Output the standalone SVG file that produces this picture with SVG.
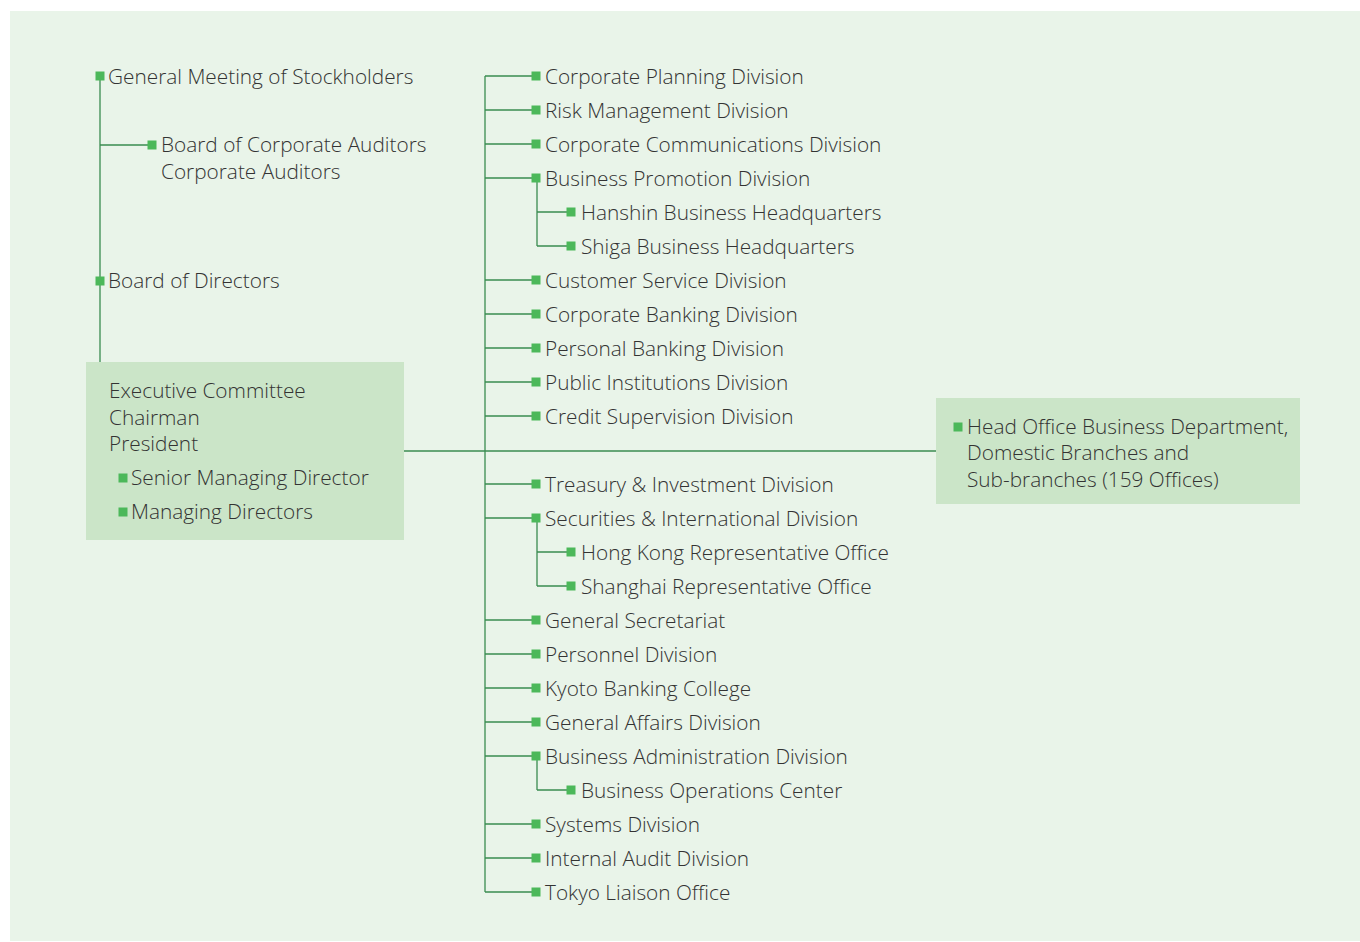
<svg xmlns="http://www.w3.org/2000/svg" width="1360" height="942" viewBox="0 0 1360 942">
<style>
text{font-family:"Open Sans","Noto Sans","Liberation Sans",sans-serif;font-size:20.8px;font-weight:300;fill:#333333}
.ln{stroke:#3a8c50;stroke-width:1.3;fill:none}
.b{fill:#4cb85a}
.box{fill:#cbe5c8}
</style>
<defs>
<rect id="sq" x="-4.5" y="-4.5" width="9" height="9" class="b"/>
</defs>
<rect x="10" y="11" width="1350" height="930" fill="#e9f4e9"/>
<g id="connectors">
<path class="ln" d="M100,76V362M100,145H152"/>
<path class="ln" d="M404,451H936"/>
<path class="ln" d="M485,76V892"/>
<path class="ln" d="M485,76H536M485,110H536M485,144H536M485,178H536M485,280H536M485,314H536M485,348H536M485,382H536M485,416H536M485,484H536M485,518H536M485,620H536M485,654H536M485,688H536M485,722H536M485,756H536M485,824H536M485,858H536M485,892H536"/>
<path class="ln" d="M537,178V246M537,212H571M537,246H571"/>
<path class="ln" d="M537,518V586M537,552H571M537,586H571"/>
<path class="ln" d="M537,756V790M537,790H571"/>
</g>
<g id="n-gms"><use href="#sq" x="100" y="76"/><text x="108" y="84">General Meeting of Stockholders</text></g>
<g id="n-auditors"><use href="#sq" x="152" y="145"/><text x="161" y="152">Board of Corporate Auditors</text><text x="161" y="179">Corporate Auditors</text></g>
<g id="n-bod"><use href="#sq" x="100" y="281"/><text x="108" y="288">Board of Directors</text></g>
<g id="n-exec">
<rect class="box" x="86" y="362" width="318" height="178"/>
<text x="109" y="398">Executive Committee</text>
<text x="109" y="425">Chairman</text>
<text x="109" y="451">President</text>
<use href="#sq" x="123" y="478"/><text x="131" y="485">Senior Managing Director</text>
<use href="#sq" x="123" y="512"/><text x="131" y="519">Managing Directors</text>
</g>
<g id="n-branches">
<rect class="box" x="936" y="398" width="364" height="106"/>
<use href="#sq" x="958" y="427"/><text x="967" y="434">Head Office Business Department,</text>
<text x="967" y="460">Domestic Branches and</text>
<text x="967" y="487">Sub-branches (159 Offices)</text>
</g>
<g id="n-cpd"><use href="#sq" x="536" y="76"/><text x="545" y="84">Corporate Planning Division</text></g>
<g id="n-rmd"><use href="#sq" x="536" y="110"/><text x="545" y="118">Risk Management Division</text></g>
<g id="n-ccd"><use href="#sq" x="536" y="144"/><text x="545" y="152">Corporate Communications Division</text></g>
<g id="n-bpd"><use href="#sq" x="536" y="178"/><text x="545" y="186">Business Promotion Division</text></g>
<g id="n-hbh"><use href="#sq" x="571" y="212"/><text x="581" y="220">Hanshin Business Headquarters</text></g>
<g id="n-sbh"><use href="#sq" x="571" y="246"/><text x="581" y="254">Shiga Business Headquarters</text></g>
<g id="n-csd"><use href="#sq" x="536" y="280"/><text x="545" y="288">Customer Service Division</text></g>
<g id="n-cbd"><use href="#sq" x="536" y="314"/><text x="545" y="322">Corporate Banking Division</text></g>
<g id="n-pbd"><use href="#sq" x="536" y="348"/><text x="545" y="356">Personal Banking Division</text></g>
<g id="n-pid"><use href="#sq" x="536" y="382"/><text x="545" y="390">Public Institutions Division</text></g>
<g id="n-csv"><use href="#sq" x="536" y="416"/><text x="545" y="424">Credit Supervision Division</text></g>
<g id="n-tid"><use href="#sq" x="536" y="484"/><text x="545" y="492">Treasury &amp; Investment Division</text></g>
<g id="n-sid"><use href="#sq" x="536" y="518"/><text x="545" y="526">Securities &amp; International Division</text></g>
<g id="n-hk"><use href="#sq" x="571" y="552"/><text x="581" y="560">Hong Kong Representative Office</text></g>
<g id="n-sh"><use href="#sq" x="571" y="586"/><text x="581" y="594">Shanghai Representative Office</text></g>
<g id="n-gs"><use href="#sq" x="536" y="620"/><text x="545" y="628">General Secretariat</text></g>
<g id="n-pd"><use href="#sq" x="536" y="654"/><text x="545" y="662">Personnel Division</text></g>
<g id="n-kbc"><use href="#sq" x="536" y="688"/><text x="545" y="696">Kyoto Banking College</text></g>
<g id="n-gad"><use href="#sq" x="536" y="722"/><text x="545" y="730">General Affairs Division</text></g>
<g id="n-bad"><use href="#sq" x="536" y="756"/><text x="545" y="764">Business Administration Division</text></g>
<g id="n-boc"><use href="#sq" x="571" y="790"/><text x="581" y="798">Business Operations Center</text></g>
<g id="n-sd"><use href="#sq" x="536" y="824"/><text x="545" y="832">Systems Division</text></g>
<g id="n-iad"><use href="#sq" x="536" y="858"/><text x="545" y="866">Internal Audit Division</text></g>
<g id="n-tlo"><use href="#sq" x="536" y="892"/><text x="545" y="900">Tokyo Liaison Office</text></g>
</svg>
